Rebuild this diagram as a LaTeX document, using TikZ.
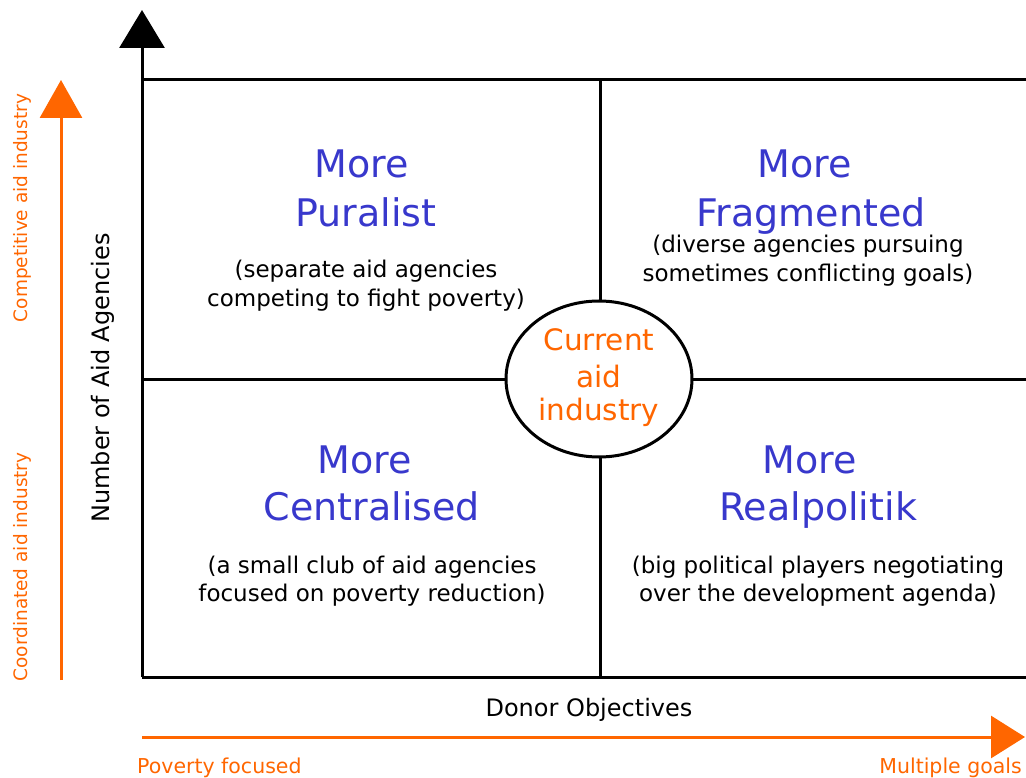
\documentclass[tikz,border=0pt]{standalone}
\usepackage{fontspec}
\setmainfont{DejaVu Sans}
\usetikzlibrary{arrows.meta,shapes.geometric}
\definecolor{aidorange}{RGB}{255,102,0}
\definecolor{aidblue}{RGB}{56,56,204}
\tikzset{
  axisline/.style={line width=3pt, black},
  orangeaxis/.style={line width=3pt, aidorange},
  titletext/.style={font=\fontsize{38}{46}\selectfont, text=aidblue, inner sep=0pt, anchor=base},
  subtext/.style={font=\fontsize{23}{28}\selectfont, text=black, inner sep=0pt, anchor=base},
  axistext/.style={font=\fontsize{24}{28}\selectfont, text=black, inner sep=0pt},
  orangetext/.style={font=\fontsize{20.5}{24}\selectfont, text=aidorange, inner sep=0pt},
  sideorange/.style={font=\fontsize{18.5}{22}\selectfont, text=aidorange, inner sep=0pt, rotate=90},
  circtext/.style={font=\fontsize{29.5}{34}\selectfont, text=aidorange, inner sep=0pt, anchor=base},
}
\begin{document}
\begin{tikzpicture}[x=1pt,y=-1pt]
\useasboundingbox (0,0) rectangle (1026,778);
% coordinates
\coordinate (origin) at (142,677);
\coordinate (ytip) at (142,10);
\coordinate (topL) at (142,80);
\coordinate (topR) at (1028,80);
\coordinate (botR) at (1028,677);
\coordinate (midL) at (142,379);
\coordinate (midR) at (1028,379);
\coordinate (midT) at (600,80);
\coordinate (midB) at (600,677);
\coordinate (oyb) at (61,680);
\coordinate (oyt) at (61,80);
\coordinate (oxl) at (142,737);
\coordinate (oxr) at (1025,737);
% grid
\draw[axisline] (topL) -- (topR);
\draw[axisline] (origin) -- (botR);
\draw[axisline] (midL) -- (midR);
\draw[axisline] (midT) -- (midB);
\draw[axisline, -{Triangle[width=45pt,length=38pt]}] (origin) -- (ytip);
% orange axes
\draw[orangeaxis, -{Triangle[width=42pt,length=38pt]}] (oyb) -- (oyt);
\draw[orangeaxis, -{Triangle[width=42pt,length=34pt]}] (oxl) -- (oxr);
% centre ellipse
\node[ellipse, draw=black, line width=3pt, fill=white, minimum width=186pt, minimum height=156pt, inner sep=0pt] (cur) at (599,379) {};
\node[circtext] (cur1) at (599,350) {Current};
\node[circtext] (cur2) at (599,387) {aid};
\node[circtext] (cur3) at (599,420) {industry};
% upper left
\node[titletext] (ul1) at (362,178) {More};
\node[titletext] (ul2) at (366,227) {Puralist};
\node[subtext] (ul3) at (366,278) {(separate aid agencies};
\node[subtext] (ul4) at (366,306) {competing to fight poverty)};
% upper right
\node[titletext] (ur1) at (805,178) {More};
\node[titletext] (ur2) at (811,227) {Fragmented};
\node[subtext] (ur3) at (808,253) {(diverse agencies pursuing};
\node[subtext] (ur4) at (808,282) {sometimes conflicting goals)};
% lower left
\node[titletext] (ll1) at (365,473) {More};
\node[titletext] (ll2) at (372,520) {Centralised};
\node[subtext] (ll3) at (372,573) {(a small club of aid agencies};
\node[subtext] (ll4) at (372,601) {focused on poverty reduction)};
% lower right
\node[titletext] (lr1) at (810,473) {More};
\node[titletext] (lr2) at (818,520) {Realpolitik};
\node[subtext] (lr3) at (818,573) {(big political players negotiating};
\node[subtext] (lr4) at (818,601) {over the development agenda)};
% axis labels
\node[axistext, anchor=base] (xlab) at (589,716) {Donor Objectives};
\node[axistext, rotate=90] (ylab) at (103,378) {Number of Aid Agencies};
\node[orangetext, anchor=base west] (pov) at (137,773) {Poverty focused};
\node[orangetext, anchor=base east] (mult) at (1022,773) {Multiple goals};
\node[sideorange] (comp) at (22,208) {Competitive aid industry};
\node[sideorange] (coord) at (22,567) {Coordinated aid industry};
\end{tikzpicture}
\end{document}
